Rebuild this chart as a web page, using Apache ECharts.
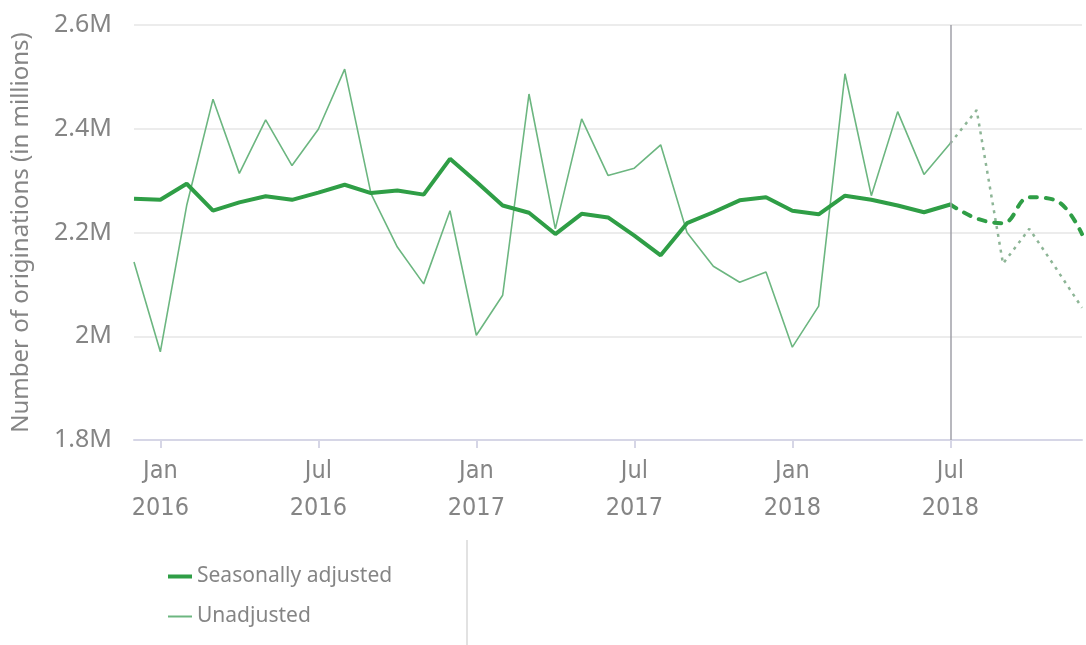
<!DOCTYPE html>
<html>
<head>
<meta charset="utf-8">
<script src="https://cdn.jsdelivr.net/npm/echarts@6/dist/echarts.min.js"></script>
<style>
  html, body { margin: 0; padding: 0; background: #fff; }
  #main { width: 1086px; height: 645px; }
</style>
</head>
<body>
<div id="main"></div>
<script>
// months Dec 2015 .. Dec 2018
var months = [
  'Dec 2015',
  'Jan 2016', 'Feb 2016', 'Mar 2016', 'Apr 2016', 'May 2016', 'Jun 2016',
  'Jul 2016', 'Aug 2016', 'Sep 2016', 'Oct 2016', 'Nov 2016', 'Dec 2016',
  'Jan 2017', 'Feb 2017', 'Mar 2017', 'Apr 2017', 'May 2017', 'Jun 2017',
  'Jul 2017', 'Aug 2017', 'Sep 2017', 'Oct 2017', 'Nov 2017', 'Dec 2017',
  'Jan 2018', 'Feb 2018', 'Mar 2018', 'Apr 2018', 'May 2018', 'Jun 2018',
  'Jul 2018', 'Aug 2018', 'Sep 2018', 'Oct 2018', 'Nov 2018', 'Dec 2018'
];

// values in millions, Dec 2015 .. Jul 2018
var seasonallyAdjusted = [
  2.265,
  2.263, 2.294, 2.242, 2.258, 2.270, 2.263,
  2.277, 2.292, 2.276, 2.281, 2.273, 2.342,
  2.298, 2.252, 2.238, 2.197, 2.236, 2.229,
  2.194, 2.156, 2.218, 2.239, 2.262, 2.268,
  2.242, 2.235, 2.271, 2.263, 2.252, 2.239,
  2.254
];
var unadjusted = [
  2.143,
  1.970, 2.252, 2.457, 2.314, 2.417, 2.329,
  2.399, 2.515, 2.275, 2.172, 2.101, 2.242,
  2.002, 2.079, 2.467, 2.207, 2.419, 2.310,
  2.324, 2.369, 2.200, 2.135, 2.104, 2.124,
  1.979, 2.058, 2.506, 2.271, 2.433, 2.312,
  2.372
];
// projected values, Aug 2018 .. Dec 2018
var adjustedForecast = [2.227, 2.218, 2.268, 2.262, 2.197];
var unadjustedForecast = [2.436, 2.140, 2.207, 2.132, 2.055];

var yTicks = [1.8, 2.0, 2.2, 2.4, 2.6];
var cutMonth = 'Jul 2018';

// forecast series start at the last actual point
var padForecast = function (actual, forecast) {
  var out = [];
  for (var i = 0; i < actual.length - 1; i++) out.push(null);
  out.push(actual[actual.length - 1]);
  return out.concat(forecast);
};

var isMarked = function (index, value) {
  return value.indexOf('Jan') === 0 || value.indexOf('Jul') === 0;
};

var darkGreen = '#2f9e46';
var lightGreen = '#6cb680';
var textGray = '#858585';
var font = 'Noto Sans';

var chart = echarts.init(document.getElementById('main'));
chart.setOption({
  animation: false,
  textStyle: { fontFamily: font },
  grid: { left: 134, right: 4, top: 25, bottom: 205 },
  legend: [
    {
      left: 163, top: 561, orient: 'vertical',
      icon: 'rect', itemWidth: 24, itemHeight: 4, itemGap: 6,
      textStyle: { color: textGray, fontSize: 21, fontFamily: font },
      data: ['Seasonally adjusted']
    },
    {
      left: 163, top: 601, orient: 'vertical',
      icon: 'rect', itemWidth: 24, itemHeight: 2,
      textStyle: { color: textGray, fontSize: 21, fontFamily: font },
      data: ['Unadjusted']
    }
  ],
  graphic: [
    {
      type: 'line',
      shape: { x1: 467, y1: 540, x2: 467, y2: 645 },
      style: { stroke: '#e2e2e2', lineWidth: 2 }
    }
  ],
  xAxis: {
    type: 'category',
    boundaryGap: false,
    data: months,
    axisLine: { lineStyle: { color: '#d6d6e6', width: 2 } },
    axisTick: {
      interval: isMarked,
      length: 8,
      lineStyle: { color: '#d6d6e6', width: 2 }
    },
    axisLabel: {
      interval: isMarked,
      color: textGray,
      fontSize: 25,
      lineHeight: 37,
      margin: 13,
      fontFamily: 'DejaVu Sans Condensed',
      formatter: function (v) { return v.replace(' ', '\n'); }
    },
    splitLine: { show: false }
  },
  yAxis: {
    type: 'value',
    min: yTicks[0],
    max: yTicks[yTicks.length - 1],
    interval: 0.2,
    name: 'Number of originations (in millions)',
    nameLocation: 'middle',
    nameGap: 101,
    nameTextStyle: { color: textGray, fontSize: 24, fontFamily: font, padding: [0, 0, 0, 0] },
    axisLine: { show: false },
    axisTick: { show: false },
    axisLabel: {
      color: textGray,
      fontSize: 25,
      margin: 22,
      fontFamily: font,
      formatter: function (v) { return parseFloat(v.toFixed(1)) + 'M'; }
    },
    splitLine: { lineStyle: { color: '#ececec', width: 2 } }
  },
  series: [
    {
      name: 'Unadjusted',
      type: 'line',
      data: unadjusted,
      symbol: 'none',
      z: 2,
      color: lightGreen,
      lineStyle: { color: lightGreen, width: 1.6 },
      markLine: {
        silent: true,
        symbol: 'none',
        label: { show: false },
        lineStyle: { color: '#a0a0a8', type: 'solid', width: 1.5 },
        data: [{ xAxis: cutMonth }]
      }
    },
    {
      name: 'Unadjusted forecast',
      type: 'line',
      data: padForecast(unadjusted, unadjustedForecast),
      symbol: 'none',
      z: 2,
      lineStyle: { color: '#8db596', width: 2.5, type: [3, 5] }
    },
    {
      name: 'Seasonally adjusted',
      type: 'line',
      data: seasonallyAdjusted,
      symbol: 'none',
      z: 3,
      color: darkGreen,
      lineStyle: { color: darkGreen, width: 4 }
    },
    {
      name: 'Seasonally adjusted forecast',
      type: 'line',
      data: padForecast(seasonallyAdjusted, adjustedForecast),
      symbol: 'none',
      smooth: 0.4,
      z: 3,
      lineStyle: { color: darkGreen, width: 4, type: [7, 9], cap: 'round' }
    }
  ]
});
</script>
</body>
</html>
